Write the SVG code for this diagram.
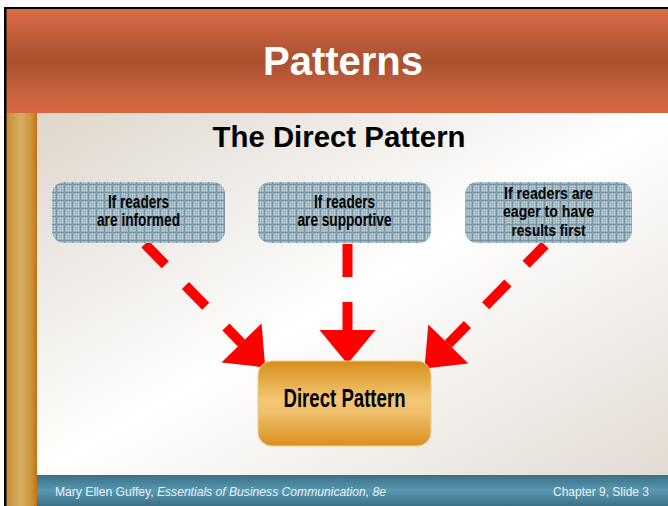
<svg xmlns="http://www.w3.org/2000/svg" width="668" height="506" viewBox="0 0 668 506">
<defs>
<linearGradient id="band" x1="0" y1="0" x2="0" y2="1">
<stop offset="0" stop-color="#DA6A46"/>
<stop offset="0.5" stop-color="#A9502F"/>
<stop offset="0.85" stop-color="#CD6440"/>
<stop offset="1" stop-color="#D3673F"/>
</linearGradient>
<linearGradient id="gold" x1="0" y1="0" x2="1" y2="0">
<stop offset="0" stop-color="#C58C34"/>
<stop offset="0.45" stop-color="#D4B062"/>
<stop offset="0.8" stop-color="#CD9640"/>
<stop offset="1" stop-color="#C4700F"/>
</linearGradient>
<linearGradient id="bg" x1="0" y1="0" x2="1" y2="1">
<stop offset="0" stop-color="#DED6CC"/>
<stop offset="0.5" stop-color="#FFFFFF"/>
<stop offset="1" stop-color="#E3DBD2"/>
</linearGradient>
<linearGradient id="foot" x1="0" y1="0" x2="0" y2="1">
<stop offset="0" stop-color="#3B6F85"/>
<stop offset="0.5" stop-color="#5898B2"/>
<stop offset="1" stop-color="#3C7088"/>
</linearGradient>
<linearGradient id="orange" x1="0" y1="0" x2="0" y2="1">
<stop offset="0" stop-color="#D68E1A"/>
<stop offset="0.45" stop-color="#F3C774"/>
<stop offset="0.6" stop-color="#F0C06C"/>
<stop offset="1" stop-color="#D98F1E"/>
</linearGradient>
<pattern id="dither" width="2" height="2" patternUnits="userSpaceOnUse">
<rect width="2" height="2" fill="#A3B9C4"/>
<rect width="1" height="1" fill="#C0D0D8"/>
<rect x="1" y="1" width="1" height="1" fill="#93ACB9"/>
</pattern>
<pattern id="grid" width="8" height="8" patternUnits="userSpaceOnUse">
<rect width="8" height="8" fill="url(#dither)"/>
<rect width="8" height="1" fill="#7495A6"/>
<rect width="1" height="8" fill="#7495A6"/>
</pattern>
<marker id="head" markerUnits="userSpaceOnUse" markerWidth="60" markerHeight="60" viewBox="-2 -22 30 44" refX="0" refY="0" orient="auto" overflow="visible">
<polygon points="0,-20.5 25,0 0,20.5" fill="#FF0000"/>
</marker>
<style>
.box{fill:url(#grid);}
.bt{font-family:"Liberation Sans","DejaVu Sans",sans-serif;font-size:17.5px;font-weight:bold;fill:#000;text-anchor:middle;}
.bt3{font-size:16px;}
.arr{fill:none;stroke:#FF0000;stroke-width:10;marker-end:url(#head);}
.ft{font-family:"Liberation Sans",Arial,sans-serif;font-size:13px;fill:#E8F0F3;}
</style>
</defs>

<rect width="668" height="506" fill="#FFFFFF"/>
<rect x="4" y="7" width="664" height="499" fill="#000000"/>
<rect x="6.5" y="9" width="661.5" height="104" fill="url(#band)"/>
<rect x="6.5" y="113" width="30.5" height="393" fill="url(#gold)"/>
<rect x="37" y="113" width="631" height="362" fill="url(#bg)"/>
<rect x="37" y="475" width="631" height="31" fill="url(#foot)"/>

<text x="343" y="75" font-family="Liberation Sans, Arial, sans-serif" font-size="40" font-weight="bold" fill="#FFFFFF" text-anchor="middle">Patterns</text>
<text x="339" y="147" font-family="Liberation Sans, Arial, sans-serif" font-size="29.5" font-weight="bold" fill="#000000" text-anchor="middle" textLength="253" lengthAdjust="spacingAndGlyphs">The Direct Pattern</text>

<g id="connectors">
<path class="arr" d="M145,244 L241.5,343" stroke-dasharray="29 29"/>
<path class="arr" d="M347.5,244 L347.5,330" stroke-dasharray="33 25"/>
<path class="arr" d="M545,245 L448.3,344" stroke-dasharray="32 26" stroke-dashoffset="5"/>
</g>

<g id="node-informed">
<rect class="box" x="52" y="182" width="173" height="61" rx="12"/>
<text class="bt" x="138.5" y="207.5" textLength="61" lengthAdjust="spacingAndGlyphs">If readers</text>
<text class="bt" x="138.5" y="226" textLength="83" lengthAdjust="spacingAndGlyphs">are informed</text>
</g>
<g id="node-supportive">
<rect class="box" x="258" y="182" width="173" height="61" rx="12"/>
<text class="bt" x="344.5" y="207.5" textLength="61" lengthAdjust="spacingAndGlyphs">If readers</text>
<text class="bt" x="344.5" y="226" textLength="94" lengthAdjust="spacingAndGlyphs">are supportive</text>
</g>
<g id="node-eager">
<rect class="box" x="465" y="182" width="167" height="61" rx="12"/>
<text class="bt bt3" x="548.5" y="199" textLength="89" lengthAdjust="spacingAndGlyphs">If readers are</text>
<text class="bt bt3" x="548.5" y="217" textLength="91" lengthAdjust="spacingAndGlyphs">eager to have</text>
<text class="bt bt3" x="548.5" y="235.5" textLength="74" lengthAdjust="spacingAndGlyphs">results first</text>
</g>
<g id="node-direct">
<rect x="258" y="361" width="173" height="85" rx="14" fill="url(#orange)" stroke="#F0CC8A" stroke-width="1"/>
<text x="344.5" y="406.5" font-family="Liberation Sans, Arial, sans-serif" font-size="26" font-weight="bold" fill="#000" text-anchor="middle" textLength="122" lengthAdjust="spacingAndGlyphs">Direct Pattern</text>
</g>

<text class="ft" x="55" y="496" textLength="331" lengthAdjust="spacingAndGlyphs">Mary Ellen Guffey, <tspan font-style="italic">Essentials of Business Communication, 8e</tspan></text>
<text class="ft" x="649" y="496" text-anchor="end" textLength="96" lengthAdjust="spacingAndGlyphs">Chapter 9, Slide 3</text>
</svg>
